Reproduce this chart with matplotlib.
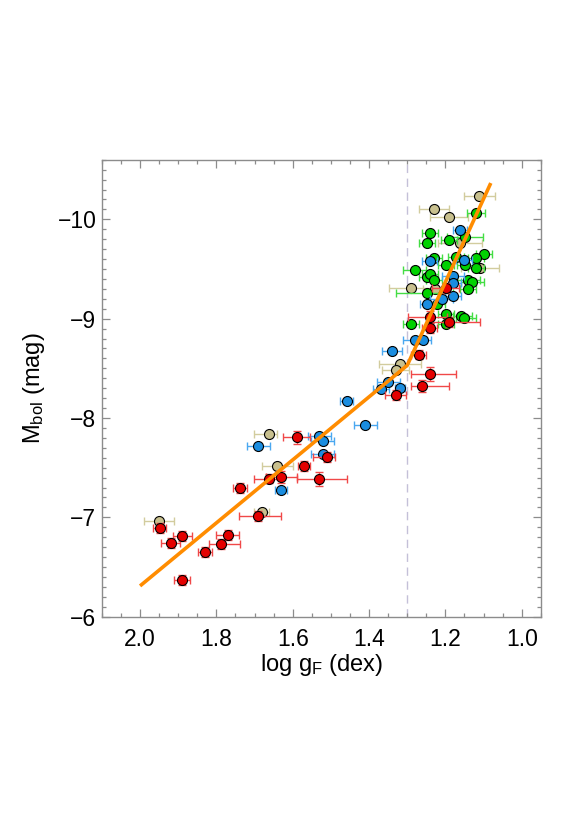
import matplotlib
matplotlib.use("Agg")
import matplotlib.pyplot as plt
from matplotlib.ticker import MultipleLocator
import numpy as np

# ---------------- data ----------------
# red stars
red_x = [1.199, 1.241, 1.241, 1.191, 1.270, 1.241, 1.260, 1.330, 1.590, 1.509, 1.570, 1.661,
         1.630, 1.530, 1.739, 1.690, 1.949, 1.889, 1.920, 1.770, 1.789, 1.829, 1.889]
red_m = [-9.313, -9.017, -8.910, -8.967, -8.639, -8.441, -8.320, -8.236, -7.804, -7.609, -7.518, -7.391,
         -7.404, -7.387, -7.294, -7.009, -6.894, -6.814, -6.744, -6.818, -6.733, -6.650, -6.365]
red_ep = [0.035, 0.058, 0.020, 0.050, 0.020, 0.050, 0.031, 0.028, 0.035, 0.037, 0.016, 0.040,
          0.040, 0.059, 0.018, 0.050, 0.016, 0.024, 0.025, 0.030, 0.030, 0.018, 0.021]
red_em = [0.035, 0.044, 0.020, 0.081, 0.020, 0.070, 0.069, 0.028, 0.035, 0.020, 0.016, 0.030,
          0.040, 0.071, 0.018, 0.060, 0.016, 0.024, 0.025, 0.030, 0.050, 0.018, 0.021]
red_ey = [0.05, 0.06, 0.05, 0.05, 0.05, 0.07, 0.06, 0.05, 0.07, 0.05, 0.05, 0.05,
          0.06, 0.07, 0.05, 0.05, 0.05, 0.05, 0.05, 0.05, 0.05, 0.05, 0.05]

# blue stars
blue_x = [1.161, 1.151, 1.241, 1.180, 1.180, 1.210, 1.180, 1.249, 1.280, 1.258, 1.340,
          1.350, 1.369, 1.319, 1.459, 1.410, 1.690, 1.531, 1.521, 1.521, 1.630]
blue_m = [-9.889, -9.595, -9.580, -9.434, -9.359, -9.202, -9.225, -9.152, -8.790, -8.790, -8.672,
          -8.363, -8.287, -8.303, -8.172, -7.925, -7.723, -7.817, -7.770, -7.636, -7.274]
blue_e = [0.018, 0.020, 0.020, 0.030, 0.020, 0.030, 0.020, 0.018, 0.030, 0.020, 0.026,
          0.030, 0.020, 0.012, 0.018, 0.030, 0.030, 0.030, 0.030, 0.030, 0.016]

# green stars
green_x = [1.120, 1.241, 1.249, 1.190, 1.149, 1.099, 1.120, 1.171, 1.229, 1.199, 1.149, 1.120, 1.280,
           1.249, 1.241, 1.230, 1.140, 1.130, 1.140, 1.249, 1.222, 1.199, 1.159, 1.150, 1.290, 1.199]
green_m = [-10.063, -9.866, -9.764, -9.789, -9.822, -9.655, -9.611, -9.625, -9.608, -9.537, -9.537,
           -9.514, -9.494, -9.420, -9.450, -9.393, -9.386, -9.369, -9.303, -9.259, -9.152, -9.044,
           -9.024, -9.004, -8.947, -8.944]
green_ep = [0.024, 0.021, 0.021, 0.021, 0.047, 0.021, 0.021, 0.021, 0.021, 0.021, 0.021, 0.021, 0.030,
            0.021, 0.021, 0.021, 0.030, 0.030, 0.021, 0.080, 0.021, 0.021, 0.021, 0.021, 0.021, 0.021]
green_em = [0.024, 0.021, 0.021, 0.021, 0.047, 0.021, 0.021, 0.021, 0.021, 0.021, 0.021, 0.021, 0.030,
            0.021, 0.021, 0.021, 0.030, 0.030, 0.021, 0.070, 0.021, 0.021, 0.030, 0.030, 0.021, 0.021]

# tan stars
tan_x = [1.111, 1.230, 1.191, 1.162, 1.109, 1.291, 1.319, 1.330, 1.661, 1.640, 1.681, 1.950, 1.228]
tan_m = [-10.238, -10.100, -10.023, -9.762, -9.514, -9.313, -8.548, -8.481, -7.837, -7.518,
         -7.055, -6.959, -9.303]
tan_ep = [0.040, 0.040, 0.050, 0.058, 0.049, 0.058, 0.055, 0.035, 0.040, 0.040, 0.020, 0.040, 0.030]
tan_em = [0.040, 0.040, 0.050, 0.058, 0.049, 0.058, 0.055, 0.035, 0.020, 0.040, 0.020, 0.040, 0.030]

# fitted broken relation
fit_x = [2.00, 1.30, 1.081]
fit_m = [-6.31, -8.53, -10.365]

# ---------------- figure ----------------
plt.rcParams['font.family'] = ['Liberation Sans', 'DejaVu Sans']
plt.rcParams['mathtext.fontset'] = 'custom'
plt.rcParams['mathtext.rm'] = 'Liberation Sans'
plt.rcParams['mathtext.it'] = 'Liberation Sans:italic'

fig = plt.figure(figsize=(5.79, 8.19), dpi=100)
ax = fig.add_axes([0.176, 0.247, 0.758, 0.558])

groups = [
    (tan_x, tan_m, tan_em, tan_ep, None, '#c8c08e', '#d2cc9e'),
    (green_x, green_m, green_em, green_ep, None, '#00d200', '#44dd44'),
    (blue_x, blue_m, blue_e, blue_e, None, '#1a8de0', '#4aa8f0'),
    (red_x, red_m, red_em, red_ep, red_ey, '#e40000', '#f04848'),
]

z = 2
for gx, gm, em, ep, ey, fc, ec in groups:
    ax.errorbar(gx, gm, xerr=[em, ep], yerr=ey, fmt='none', ecolor=ec,
                elinewidth=1.0, capsize=2.6, capthick=1.0, zorder=z)
    ax.plot(gx, gm, 'o', ms=7.2, mfc=fc, mec='black', mew=0.8, ls='none', zorder=z + 0.5)
    z += 1

ax.plot(fit_x, fit_m, color='#ff8c00', lw=2.6, solid_capstyle='butt', zorder=10)
ax.axvline(1.3, color='#c4c0d8', lw=1.0, ls=(0, (6, 4)), zorder=1)

ax.set_xlim(2.1, 0.95)
ax.set_ylim(-6.0, -10.6)
ax.xaxis.set_major_locator(MultipleLocator(0.2))
ax.xaxis.set_minor_locator(MultipleLocator(0.05))
ax.yaxis.set_major_locator(MultipleLocator(1.0))
ax.yaxis.set_minor_locator(MultipleLocator(0.1))
ax.xaxis.set_major_formatter(matplotlib.ticker.FormatStrFormatter('%.1f'))
ax.yaxis.set_major_formatter(matplotlib.ticker.FuncFormatter(lambda v, p: '\u2212%d' % round(-v)))

for s in ax.spines.values():
    s.set_color('#8c8c8c')
    s.set_linewidth(1.0)
ax.tick_params(which='both', direction='in', top=True, right=True, color='#8c8c8c',
               labelsize=16.5, labelcolor='black')
ax.tick_params(which='major', length=5.8, width=0.9)
ax.tick_params(which='minor', length=2.9, width=0.9)
ax.tick_params(axis='x', which='major', pad=8)
ax.tick_params(axis='y', which='major', pad=4)

ax.set_xlabel(r'log g$_{\rm F}$ (dex)', fontsize=17)
ax.set_ylabel(r'M$_{\rm bol}$ (mag)', fontsize=17)
ax.xaxis.set_label_coords(0.5, -0.078)
ax.yaxis.set_label_coords(-0.125, 0.5)

fig.savefig('out.png', dpi=100)
